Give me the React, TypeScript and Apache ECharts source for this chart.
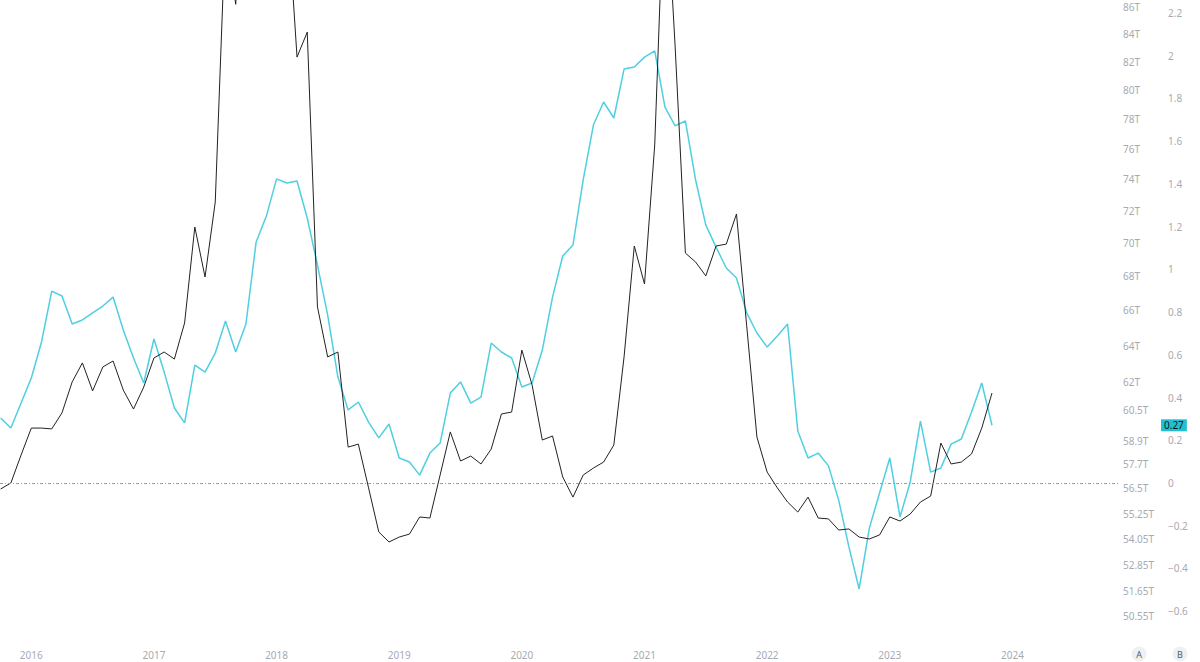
import { useEffect, useRef } from 'react';
import * as echarts from 'echarts';

// Monthly points; first point = Oct 2015. x is the month offset from Jan 2016.
const firstMonthOffset = -3;

// Cyan series (right axis B)
const cyanValues = [
  0.304, 0.257, 0.374,
  0.491, 0.66, 0.898, 0.875, 0.744, 0.763, 0.796, 0.828, 0.87, 0.716, 0.585, 0.468,
  0.674, 0.519, 0.351, 0.281, 0.552, 0.519, 0.608, 0.758, 0.613, 0.744, 1.128, 1.249,
  1.423, 1.404, 1.413, 1.24, 1.02, 0.786, 0.496, 0.342, 0.379, 0.285, 0.211, 0.276,
  0.117, 0.098, 0.037, 0.14, 0.187, 0.421, 0.473, 0.374, 0.402, 0.655, 0.613, 0.585,
  0.449, 0.468, 0.622, 0.87, 1.062, 1.114, 1.418, 1.675, 1.783, 1.708, 1.937, 1.947,
  1.993, 2.022, 1.759, 1.671, 1.694, 1.418, 1.207, 1.104, 1.006, 0.959, 0.796, 0.702,
  0.636, 0.688, 0.744, 0.243, 0.117, 0.14, 0.08, -0.08, -0.299, -0.496, -0.211, -0.047,
  0.117, -0.159, 0.005, 0.29, 0.051, 0.07, 0.182, 0.206, 0.332, 0.468, 0.27,
];

// Black series (right axis B)
const blackValues = [
  -0.028, 0.0, 0.131,
  0.257, 0.257, 0.253, 0.328, 0.473, 0.562, 0.431, 0.543, 0.571, 0.435, 0.346, 0.449,
  0.585, 0.613, 0.58, 0.749, 1.198, 0.964, 1.315, 2.6, 2.24, 3.2, 4.1, 4.8,
  3.9, 2.73, 1.993, 2.11, 0.824, 0.59, 0.613, 0.168, 0.182, -0.023, -0.229, -0.276,
  -0.253, -0.239, -0.159, -0.164, 0.037, 0.239, 0.103, 0.126, 0.089, 0.159, 0.323, 0.332,
  0.622, 0.459, 0.201, 0.22, 0.028, -0.066, 0.037, 0.07, 0.098, 0.178, 0.59, 1.109,
  0.931, 1.582, 2.9, 2.04, 1.076, 1.034, 0.969, 1.109, 1.118, 1.259, 0.735, 0.215,
  0.051, -0.023, -0.089, -0.136, -0.066, -0.164, -0.168, -0.22, -0.215, -0.253, -0.262, -0.243,
  -0.159, -0.178, -0.145, -0.089, -0.061, 0.187, 0.089, 0.098, 0.136, 0.257, 0.421,
];

const yearLabels = [2016, 2017, 2018, 2019, 2020, 2021, 2022, 2023, 2024];
const axisATicks = [86, 84, 82, 80, 78, 76, 74, 72, 70, 68, 66, 64, 62, 60.5, 58.9, 57.7, 56.5, 55.25, 54.05, 52.85, 51.65, 50.55];
const axisBTicks = [-0.6, -0.4, -0.2, 0, 0.2, 0.4, 0.6, 0.8, 1, 1.2, 1.4, 1.6, 1.8, 2, 2.2];

const axisARange = [49.5, 86.53];
const axisBRange = [-0.7347, 2.2602];
const xRange = [-3.063, 106.33];

const monthX = cyanValues.map((_, i) => firstMonthOffset + i);

const LABEL_COLOR = '#a7aab2';
const CYAN = '#4fcfe0';

export default function App() {
  const ref = useRef<HTMLDivElement>(null);
  useEffect(() => {
    if (!ref.current) return;
    const chart = echarts.init(ref.current, null, { renderer: 'svg' });
    const last = cyanValues[cyanValues.length - 1];
    chart.setOption({
      animation: false,
      backgroundColor: '#ffffff',
      textStyle: { fontFamily: 'Noto Sans, sans-serif' },
      grid: { left: 0, top: 0, right: 82, bottom: 22, outerBoundsMode: 'none' },
      xAxis: {
        type: 'value',
        min: xRange[0],
        max: xRange[1],
        axisLine: { show: false },
        axisTick: { show: false },
        splitLine: { show: false },
        axisLabel: {
          customValues: yearLabels.map((y) => (y - 2016) * 12),
          formatter: (v: number) => String(2016 + Math.round(v / 12)),
          color: LABEL_COLOR,
          fontSize: 10,
          margin: 10,
        },
      },
      yAxis: [
        {
          type: 'value',
          position: 'right',
          offset: 0,
          min: Math.log10(axisARange[0]),
          max: Math.log10(axisARange[1]),
          axisLine: { show: false },
          axisTick: { show: false },
          splitLine: { show: false },
          axisLabel: {
            customValues: axisATicks.map((t) => Math.log10(t)),
            formatter: (v: number) => {
              const t = axisATicks.find((a) => Math.abs(Math.log10(a) - v) < 1e-6);
              return t === undefined ? '' : t + 'T';
            },
            color: LABEL_COLOR,
            fontSize: 10,
            margin: 5,
            align: 'left',
          },
        },
        {
          type: 'value',
          position: 'right',
          offset: 45,
          min: axisBRange[0],
          max: axisBRange[1],
          axisLine: { show: false },
          axisTick: { show: false },
          splitLine: { show: false },
          axisLabel: {
            customValues: axisBTicks,
            formatter: (v: number) => {
              const r = Math.round(v * 10) / 10;
              return r < 0 ? '\u2212' + Math.abs(r) : String(r);
            },
            color: LABEL_COLOR,
            fontSize: 10,
            margin: 5,
            align: 'left',
          },
        },
      ],
      series: [
        {
          type: 'line',
          yAxisIndex: 1,
          data: monthX.map((x, i) => [x, cyanValues[i]]),
          showSymbol: false,
          symbol: 'none',
          lineStyle: { color: CYAN, width: 1.5 },
          z: 2,
          markLine: {
            silent: true,
            symbol: 'none',
            lineStyle: { color: 'rgba(0,0,0,0)', width: 0 },
            label: {
              show: true,
              position: 'end',
              distance: 43,
              formatter: last.toFixed(2),
              backgroundColor: '#22bfd3',
              color: '#131722',
              fontSize: 10,
              padding: [1, 3, 1, 3],
              opacity: 1,
            },
            data: [{ yAxis: last }],
          },
        },
        {
          type: 'line',
          yAxisIndex: 1,
          data: monthX.map((x, i) => [x, blackValues[i]]),
          showSymbol: false,
          symbol: 'none',
          lineStyle: { color: '#222222', width: 1 },
          z: 3,
          markLine: {
            silent: true,
            symbol: 'none',
            label: { show: false },
            lineStyle: { color: '#9a9ea6', type: [3, 2, 1, 2], width: 1 },
            data: [{ yAxis: 0 }],
          },
        },
      ],
      graphic: [
        { type: 'circle', shape: { cx: 1139, cy: 654, r: 7.5 }, style: { fill: '#eef0f4' } },
        { type: 'text', x: 1139, y: 654, style: { text: 'A', fill: '#55585f', font: '9px Noto Sans, sans-serif', align: 'center', verticalAlign: 'middle' } },
        { type: 'circle', shape: { cx: 1180, cy: 654, r: 7.5 }, style: { fill: '#eef0f4' } },
        { type: 'text', x: 1180, y: 654, style: { text: 'B', fill: '#55585f', font: '9px Noto Sans, sans-serif', align: 'center', verticalAlign: 'middle' } },
      ],
    });
    return () => chart.dispose();
  }, []);
  return <div ref={ref} style={{ position: 'fixed', left: 0, top: 0, width: 1200, height: 662 }} />;
}
